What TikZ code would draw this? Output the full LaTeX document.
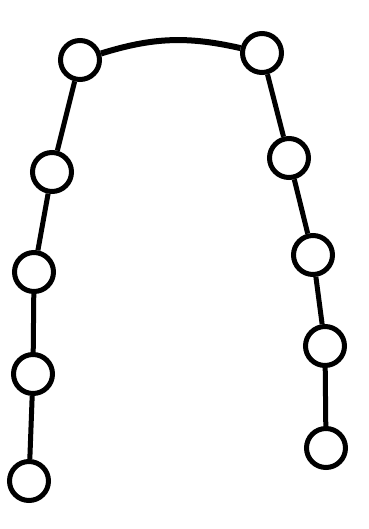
\documentclass[tikz,border=0pt]{standalone}
\usepackage{tikz}
\usetikzlibrary{positioning}

\begin{document}
\begin{tikzpicture}[
        x=1pt, y=-1pt,
        bead/.style={
            circle,
            draw=black,
            line width=5pt,
            fill=white,
            minimum size=39pt,
            inner sep=0pt
        },
        link/.style={
            line width=5pt,
            color=black
        }
    ]

    \useasboundingbox (0,0) rectangle (368,529);

    % Left chain
    \node (l1) [bead] at (80,60) {};
    \node (l2) [bead] at (52,172) {};
    \node (l3) [bead] at (34,272) {};
    \node (l4) [bead] at (33,374) {};
    \node (l5) [bead] at (29,481) {};

    % Right chain
    \node (r1) [bead] at (262,53) {};
    \node (r2) [bead] at (289,158) {};
    \node (r3) [bead] at (313,255) {};
    \node (r4) [bead] at (325,346) {};
    \node (r5) [bead] at (326,448) {};

    % Links
    \draw [link, line width=6pt] (l1) to[bend left=15] (r1);
    \draw [link] (l1) -- (l2);
    \draw [link] (l2) -- (l3);
    \draw [link] (l3) -- (l4);
    \draw [link] (l4) -- (l5);
    \draw [link] (r1) -- (r2);
    \draw [link] (r2) -- (r3);
    \draw [link] (r3) -- (r4);
    \draw [link] (r4) -- (r5);

\end{tikzpicture}
\end{document}
